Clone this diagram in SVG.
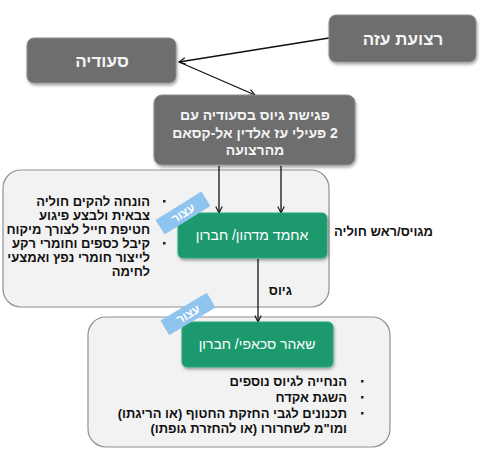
<svg xmlns="http://www.w3.org/2000/svg" width="480" height="451" viewBox="0 0 480 451">
<style>
.gbox{fill:#6e6e6e;stroke:#8c8c8c;stroke-width:1;filter:url(#sh)}
.green{fill:#1c9a6e;stroke:#2aa87c;stroke-width:1;filter:url(#sh)}
.cont{fill:#f2f2f3;stroke:#8f8f95;stroke-width:1.2}
.wt{font-family:"Liberation Sans",Arial,sans-serif;fill:#f4f4f4;font-weight:bold;text-anchor:middle;direction:rtl}
.gt{font-family:"Liberation Sans",Arial,sans-serif;fill:#ffffff;font-size:14px;text-anchor:middle;direction:rtl}
.bt{font-family:"Liberation Sans",Arial,sans-serif;fill:#111;font-weight:bold;font-size:13px;direction:rtl;text-anchor:start}
.tag{fill:#8fc4ee}
.tagt{font-family:"Liberation Sans",Arial,sans-serif;fill:#fff;font-weight:bold;font-size:12px;text-anchor:middle;direction:rtl}
.conn{stroke:#111;stroke-width:1.3;fill:none}
.dot{fill:#222}
</style>
<defs>
<filter id="sh" x="-10%" y="-10%" width="125%" height="130%">
<feDropShadow dx="1" dy="2" stdDeviation="1.5" flood-color="#000" flood-opacity="0.35"/>
</filter>
<marker id="ar" viewBox="0 0 10 10" refX="9" refY="5" markerWidth="8" markerHeight="8" orient="auto" markerUnits="userSpaceOnUse">
<path d="M1,1 L9,5 L1,9" fill="none" stroke="#111" stroke-width="1.4"/>
</marker>
</defs>

<g id="container1"><rect class="cont" x="3" y="170" width="326" height="137" rx="18"/></g>
<g id="container2"><rect class="cont" x="88" y="317" width="302" height="130" rx="18"/></g>

<g id="connectors">
<line class="conn" x1="329" y1="38" x2="179" y2="62" marker-end="url(#ar)"/>
<line class="conn" x1="179" y1="62" x2="255" y2="95" marker-end="url(#ar)"/>
<line class="conn" x1="219" y1="166" x2="219" y2="213" marker-end="url(#ar)"/>
<line class="conn" x1="281" y1="166" x2="281" y2="213" marker-end="url(#ar)"/>
<line class="conn" x1="258" y1="259" x2="258" y2="322" marker-end="url(#ar)"/>
</g>

<g id="gaza">
<rect class="gbox" x="329" y="15" width="147" height="47" rx="7"/>
<text class="wt" x="403" y="45" font-size="17">רצועת עזה</text>
</g>
<g id="saudia">
<rect class="gbox" x="27" y="38" width="149" height="45" rx="7"/>
<text class="wt" x="102" y="67" font-size="17">סעודיה</text>
</g>
<g id="meeting">
<rect class="gbox" x="154" y="95" width="201" height="70" rx="8"/>
<text class="wt" x="255" y="120" font-size="14">פגישת גיוס בסעודיה עם</text>
<text class="wt" x="255" y="138" font-size="14">2 פעילי עז אלדין אל-קסאם</text>
<text class="wt" x="255" y="155" font-size="14">מהרצועה</text>
</g>

<g id="ahmad">
<rect class="green" x="178" y="213" width="149" height="45" rx="5"/>
<text class="gt" x="252" y="240">אחמד מדהון/ חברון</text>
</g>
<g id="tag1">
<g transform="translate(183,213) rotate(-32)">
<rect class="tag" x="-27" y="-8.5" width="54" height="17"/>
<text class="tagt" x="0" y="4.5">עצור</text>
</g>
</g>
<g id="role">
<text class="bt" x="433" y="236" font-size="14">מגויס/ראש חוליה</text>
</g>
<g id="bullets1">
<text class="bt" x="150" y="206">הונחה להקים חוליה</text>
<text class="bt" x="150" y="220">צבאית ולבצע פיגוע</text>
<text class="bt" x="150" y="234">חטיפת חייל לצורך מיקוח</text>
<text class="bt" x="150" y="248">קיבל כספים וחומרי רקע</text>
<text class="bt" x="150" y="262">לייצור חומרי נפץ ואמצעי</text>
<text class="bt" x="150" y="276">לחימה</text>
<rect class="dot" x="163" y="200" width="2.5" height="2.5"/>
<rect class="dot" x="163" y="242" width="2.5" height="2.5"/>
</g>
<g id="recruit">
<text class="bt" x="292" y="295" font-size="14">גיוס</text>
</g>

<g id="shahar">
<rect class="green" x="182" y="322" width="151" height="45" rx="5"/>
<text class="gt" x="257" y="349">שאהר סכאפי/ חברון</text>
</g>
<g id="tag2">
<g transform="translate(188,314) rotate(-31)">
<rect class="tag" x="-27" y="-8.5" width="54" height="17"/>
<text class="tagt" x="0" y="4.5">עצור</text>
</g>
</g>
<g id="bullets2">
<text class="bt" x="347" y="386">הנחייה לגיוס נוספים</text>
<text class="bt" x="347" y="402">השגת אקדח</text>
<text class="bt" x="347" y="418">תכנונים לגבי החזקת החטוף (או הריגתו)</text>
<text class="bt" x="347" y="433">ומו"מ לשחרורו (או להחזרת גופתו)</text>
<rect class="dot" x="361" y="380" width="2.5" height="2.5"/>
<rect class="dot" x="361" y="396" width="2.5" height="2.5"/>
<rect class="dot" x="361" y="412" width="2.5" height="2.5"/>
</g>
</svg>
